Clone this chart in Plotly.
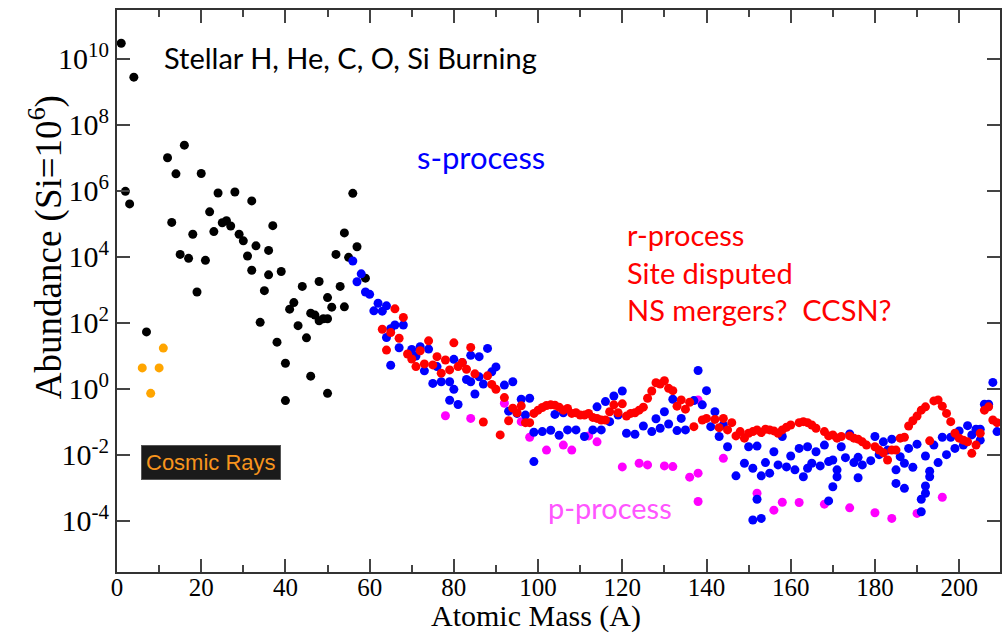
import numpy as np
import plotly.graph_objects as go

# ---------------- data (mass number A, log10 abundance, Si = 1e6) ----------------
black_A = [1, 4, 2, 3, 12, 16, 14, 20, 24, 28, 32, 56, 22, 13, 18, 23, 25, 26, 27, 29,
           30, 37, 33, 36, 31, 15, 17, 21, 32, 36, 39, 19, 35, 44, 48, 53, 52, 54, 57, 55,
           50, 51, 54, 42, 41, 46, 47, 48, 49, 50, 34, 43, 38, 45, 40, 46, 50, 40, 7, 59]
black_log = [10.47, 9.44, 5.98, 5.60, 7.00, 7.38, 6.51, 6.52, 5.93, 5.96, 5.69, 5.92, 5.36, 5.04,
             4.68, 4.76, 5.03, 5.09, 4.93, 4.68, 4.48, 4.94, 4.33, 4.19, 4.02, 4.07, 3.95, 3.89,
             3.59, 3.45, 3.55, 2.93, 2.97, 3.10, 3.25, 3.10, 4.07, 4.72, 4.30, 3.98, 2.76, 2.47,
             2.48, 2.61, 2.41, 2.29, 2.23, 2.06, 2.12, 2.12, 2.01, 1.91, 1.41, 1.54, 0.77, 0.38,
             -0.14, -0.36, 1.72, 3.35]

cosmic_A = [6, 8, 10, 11]
cosmic_log = [0.63, -0.14, 0.63, 1.23]

s_A = [56, 58, 57, 59, 60, 62, 64, 61, 63, 66, 68, 65, 64, 67, 65, 70, 72, 74, 71, 73,
       76, 75, 77, 79, 80, 80, 82, 79, 81, 83, 84, 86, 88, 85, 84, 87, 86, 89, 90, 92,
       94, 96, 98, 93, 95, 99, 101, 103, 105, 104, 99, 97, 106, 107, 109, 111, 113, 114, 115, 116,
       117, 118, 119, 120, 121, 123, 125, 127, 128, 129, 130, 131, 132, 133, 134, 135, 137, 138, 139, 140,
       141, 142, 143, 144, 145, 147, 149, 150, 151, 152, 152, 151, 153, 153, 154, 155, 156, 157, 158, 159,
       160, 161, 162, 163, 164, 164, 165, 166, 167, 168, 169, 170, 171, 171, 170, 169, 172, 173, 174, 175,
       176, 176, 177, 179, 180, 181, 182, 183, 184, 185, 185, 186, 187, 187, 188, 189, 190, 191, 191, 192,
       192, 192, 193, 193, 194, 195, 196, 197, 198, 199, 200, 201, 202, 203, 204, 205, 205, 206, 207, 208,
       209]
s_log = [3.87, 3.48, 3.24, 2.93, 2.86, 2.59, 2.51, 2.36, 2.35, 1.93, 1.93, 1.82, 1.55, 1.24, 0.71, 1.19,
         1.27, 1.20, 0.99, 0.54, 0.67, 0.16, 0.21, 0.21, 0.89, -0.02, 0.79, -0.35, -0.48, 0.28, 1.01, 0.97,
         1.22, -0.16, 0.21, 0.14, 0.36, 0.51, 0.66, 0.11, 0.21, -0.32, -0.29, -0.68, -0.75, -1.32, -1.30,
         -1.26, -1.41, -0.78, -2.21, -0.80, -0.73, -1.25, -1.25, -1.45, -1.25, -0.55, -1.25, -0.39, -1.00,
         -0.22, -0.80, -0.07, -1.35, -1.38, -1.13, -1.30, -0.91, -1.20, -0.70, -1.07, -0.32, -1.27, -0.90,
         -1.25, -0.36, 0.55, -0.49, -0.06, -1.15, -0.70, -1.45, -1.10, -1.76, -2.64, -2.26, -1.76, -2.41,
         -1.74, -3.35, -3.98, -3.93, -2.64, -2.24, -2.56, -1.91, -2.31, -1.45, -2.37, -2.04, -2.46, -1.81,
         -2.67, -1.76, -2.41, -2.26, -1.91, -2.34, -1.71, -2.21, -2.16, -2.46, -2.67, -2.97, -3.40, -1.76,
         -2.09, -1.37, -2.24, -2.08, -2.70, -2.31, -2.18, -1.45, -2.00, -1.61, -1.86, -1.53, -2.46, -2.87,
         -2.06, -2.26, -3.02, -1.81, -2.38, -1.68, -3.35, -3.73, -3.17, -2.95, -2.04, -2.67, -2.50, -1.71,
         -2.24, -1.47, -2.00, -1.47, -1.81, -1.28, -1.71, -1.12, -1.40, -1.23, -1.23, -1.56, -0.47, -0.47,
         0.19, -1.30]

r_A = [63, 64, 65, 66, 67, 68, 69, 70, 71, 72, 73, 74, 75, 76, 77, 78, 79, 80, 81, 82,
       83, 84, 85, 87, 88, 89, 90, 91, 92, 93, 94, 95, 96, 97, 98, 99, 100, 101, 102, 103,
       104, 105, 106, 107, 108, 109, 110, 111, 112, 113, 114, 115, 116, 117, 118, 119, 120, 121, 122, 123,
       124, 125, 126, 127, 128, 129, 130, 131, 132, 133, 134, 135, 136, 137, 139, 140, 142, 143, 144, 145,
       146, 147, 148, 149, 150, 151, 152, 153, 154, 155, 156, 157, 158, 159, 160, 162, 163, 164, 165, 166,
       168, 169, 170, 171, 172, 174, 175, 176, 177, 178, 180, 181, 182, 183, 184, 185, 186, 187, 188, 189,
       190, 191, 192, 193, 194, 195, 196, 197, 198, 199, 200, 201, 202, 203, 204, 205, 206, 207, 208, 209]
r_log = [1.80, 1.17, 1.70, 2.42, 1.53, 2.16, 1.05, 0.90, 0.67, 1.15, 0.75, 1.45, 0.72, 0.97, 0.47, 0.87,
         0.57, 1.39, 0.67, 0.79, 0.59, 1.25, 0.45, -1.01, 0.39, 0.13, -0.02, -1.40, -0.27, -0.97, -0.59,
         -0.73, -0.52, -1.03, -1.03, -0.75, -0.65, -0.57, -0.51, -0.49, -0.50, -0.56, -0.65, -0.60, -0.75,
         -0.73, -0.80, -0.80, -0.75, -0.87, -0.90, -0.95, -0.95, -0.70, -0.49, -0.73, -0.46, -0.83, -0.75,
         -0.73, -0.65, -0.56, -0.29, -0.07, 0.18, 0.14, 0.24, 0.01, -0.06, -0.53, -0.34, -0.62, -0.41,
         -1.15, -0.95, -0.90, -0.93, -1.18, -0.90, -1.25, -1.03, -1.43, -1.30, -1.50, -1.35, -1.30, -1.25,
         -1.33, -1.23, -1.25, -1.28, -1.35, -1.25, -1.17, -1.10, -1.03, -1.00, -1.03, -1.10, -1.20, -1.30,
         -1.43, -1.40, -1.50, -1.45, -1.43, -1.50, -1.53, -1.61, -1.71, -1.76, -1.86, -1.94, -2.16, -1.86,
         -1.86, -1.50, -1.47, -1.13, -0.97, -0.83, -0.65, -0.55, -1.58, -0.37, -0.34, -0.53, -0.75, -1.00,
         -1.35, -1.50, -1.56, -1.61, -1.96, -1.71, -1.35, -0.65, -0.55, -0.95, -1.03]

p_A = [78, 84, 92, 96, 98, 102, 106, 108, 112, 114, 120, 124, 126, 130, 132, 136, 138, 138, 138, 144,
       152, 156, 158, 162, 168, 174, 180, 184, 190, 196]
p_log = [-0.82, -0.90, -0.44, -1.00, -1.47, -1.86, -1.71, -1.86, -1.43, -1.61, -2.37, -2.26, -2.31,
         -2.34, -2.36, -2.68, -2.56, -3.42, -0.34, -2.11, -3.17, -3.68, -3.44, -3.45, -3.50, -3.61,
         -3.76, -3.93, -3.78, -3.29]

x_ticks = [0, 20, 40, 60, 80, 100, 120, 140, 160, 180, 200]
x_minor = [10, 30, 50, 70, 90, 110, 130, 150, 170, 190]
y_exps = [-4, -2, 0, 2, 4, 6, 8, 10]
y_ticktext = ["10<sup>%d</sup>" % e for e in y_exps]
y_tickvals = [10.0 ** e for e in y_exps]

x_title = "Atomic Mass (A)"
y_title = "Abundance (Si=10<sup>6</sup>)"

# ---------------- figure ----------------
SERIF = "Liberation Serif, Times New Roman, serif"
SANS = "Lato, Open Sans, sans-serif"
MS = 9

fig = go.Figure()
series = [
    (black_A, black_log, "black"),
    (cosmic_A, cosmic_log, "#FFA500"),
    (p_A, p_log, "#FF00FF"),
    (s_A, s_log, "#0000FF"),
    (r_A, r_log, "#FF0000"),
]
for xa, lg, col in series:
    fig.add_trace(go.Scatter(x=xa, y=10.0 ** np.array(lg), mode="markers",
                             marker=dict(color=col, size=MS, line=dict(width=0)),
                             showlegend=False, hoverinfo="skip"))

y_range = [-5.555, 11.476]
fig.update_layout(
    width=1002, height=634,
    margin=dict(l=117, r=0, t=10, b=62),
    paper_bgcolor="white", plot_bgcolor="white",
    xaxis=dict(range=[0, 209.7], tickvals=x_ticks, ticktext=[str(v) for v in x_ticks],
               ticks="inside", ticklen=13, tickwidth=2, tickcolor="#444",
               showline=True, linewidth=2, linecolor="#333", mirror="ticks",
               showgrid=False, zeroline=False, ticklabelstandoff=-8,
               minor=dict(tickvals=x_minor, ticks="inside", ticklen=7, tickwidth=2, tickcolor="#444"),
               tickfont=dict(family=SERIF, size=25, color="black")),
    yaxis=dict(type="log", range=y_range, tickvals=y_tickvals, ticktext=y_ticktext,
               ticks="inside", ticklen=13, tickwidth=2, tickcolor="#444",
               showline=True, linewidth=2, linecolor="#333", mirror="ticks",
               showgrid=False, zeroline=False,
               tickfont=dict(family=SERIF, size=30, color="black")),
)

def px_to_paper(px, py):
    return (px - 117) / 885.0, (572 - py) / 562.0

# axis titles placed where the reference shows them
tx, ty = px_to_paper(537, 616)
fig.add_annotation(x=tx, y=ty, xref="paper", yref="paper", text=x_title, showarrow=False,
                   xanchor="center", yanchor="middle",
                   font=dict(family=SERIF, size=30, color="black"))
tx, ty = px_to_paper(46, 247)
fig.add_annotation(x=tx, y=ty, xref="paper", yref="paper", text=y_title, showarrow=False,
                   textangle=-90, xanchor="center", yanchor="middle",
                   font=dict(family=SERIF, size=37, color="black"))

ann = [
    ("Stellar H, He, C, O, Si Burning", 162, 57, "black", 29),
    ("s-process", 416, 157, "#0000FF", 31),
    ("r-process<br>Site disputed<br>NS mergers?  CCSN?", 626, 272, "#FF0000", 29),
    ("p-process", 547, 507, "#FF55FF", 29),
]
for text, px, py, col, sz in ann:
    ax_, ay_ = px_to_paper(px, py)
    fig.add_annotation(x=ax_, y=ay_, xref="paper", yref="paper", text=text, showarrow=False,
                       xanchor="left", yanchor="middle", align="left",
                       font=dict(family=SANS, size=sz, color=col))

cx, cy = px_to_paper(211, 462)
fig.add_annotation(x=cx, y=cy, xref="paper", yref="paper", text="Cosmic Rays", showarrow=False,
                   xanchor="center", yanchor="middle", bgcolor="#1a1a1a", borderpad=4,
                   bordercolor="#555", borderwidth=1,
                   font=dict(family="Liberation Sans, Arial, sans-serif", size=22, color="#F7941D"))

fig.write_html("out.html")
